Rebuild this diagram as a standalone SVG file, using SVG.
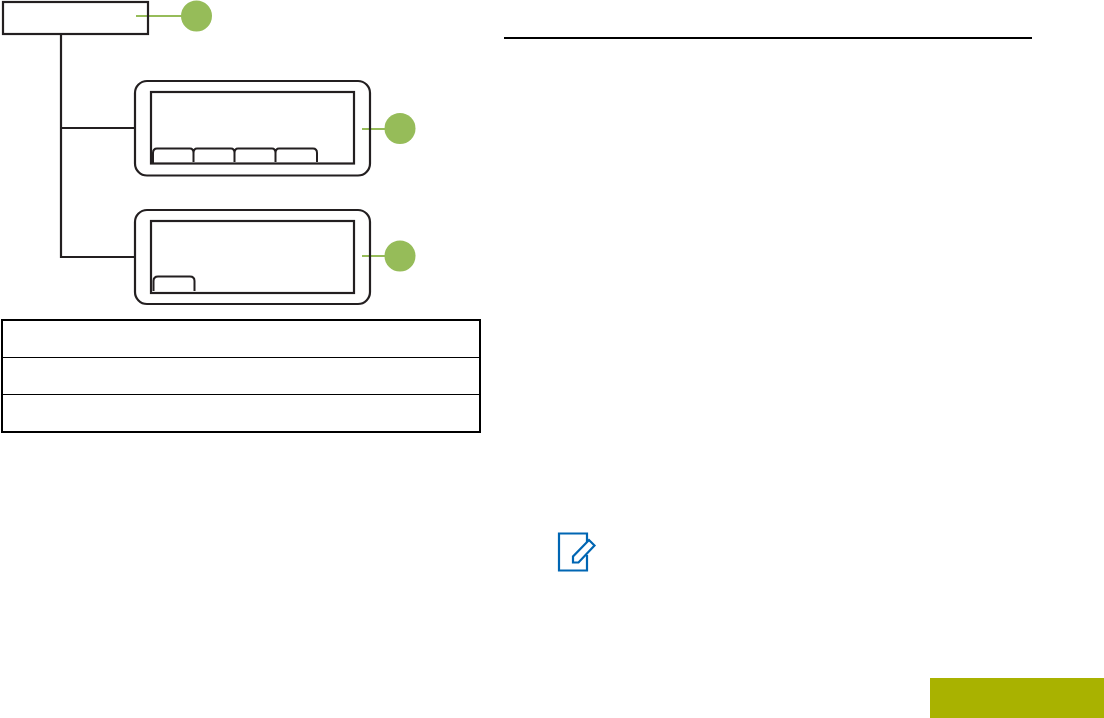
<svg xmlns="http://www.w3.org/2000/svg" width="1104" height="718" viewBox="0 0 1104 718">
<style>
.k{fill:none;stroke:#231f20;stroke-width:2.200}
.t{fill:none;stroke:#231f20;stroke-width:2}
.g{fill:none;stroke:#96bc59;stroke-width:2}
.c{fill:#96bc59}
.tb{fill:none;stroke:#000;stroke-width:2}
</style>
<rect width="1104" height="718" fill="#fff"/>
<g id="connectors">
<path class="k" d="M61 34V257H135M61 128H135"/>
<path class="g" d="M136 16H182M362 129H386M362 256H386"/>
</g>
<g id="node-root"><rect class="k" x="3" y="2" width="145" height="32"/></g>
<g id="badge-1"><circle class="c" cx="196.500" cy="16" r="15.500"/></g>
<g id="node-screen-1">
<rect class="k" x="135" y="81" width="235" height="94.500" rx="12"/>
<rect class="k" x="151" y="92" width="203" height="71.500"/>
<path class="t" d="M153 163V153Q153 148.500 157 148.500H190Q193.500 148.500 193.500 153V162M193.500 153Q193.500 148.500 197 148.500H231Q234.500 148.500 234.500 153V162M234.500 153Q234.500 148.500 238 148.500H272Q275.500 148.500 275.500 153V162M275.500 153Q275.500 148.500 279 148.500H313Q317 148.500 317 153V162"/>
</g>
<g id="badge-2"><circle class="c" cx="400" cy="128.500" r="15.500"/></g>
<g id="node-screen-2">
<rect class="k" x="135" y="210" width="235" height="94" rx="12"/>
<rect class="k" x="151" y="221" width="203" height="72"/>
<path class="t" d="M153.500 291V281Q153.500 276.500 158 276.500H190Q194.500 276.500 194.500 281V291"/>
</g>
<g id="badge-3"><circle class="c" cx="400" cy="256" r="15.500"/></g>
<g id="table">
<rect class="tb" x="2" y="320" width="478" height="112"/>
<path d="M2 357.500H480M2 394.500H480" fill="none" stroke="#000" stroke-width="1"/>
</g>
<path id="rule" d="M504 38H1032" fill="none" stroke="#000" stroke-width="2"/>
<g id="note-icon" fill="none" stroke="#0066b3" stroke-width="2.200">
<path d="M587 542V533.500H559V570.500H587V555"/>
<path d="M573 562.500V556.500L589 540L594.500 545.500L578.500 562.500Z"/>
</g>
<rect id="tab" x="930" y="678" width="174" height="40" fill="#a9b200"/>
</svg>
